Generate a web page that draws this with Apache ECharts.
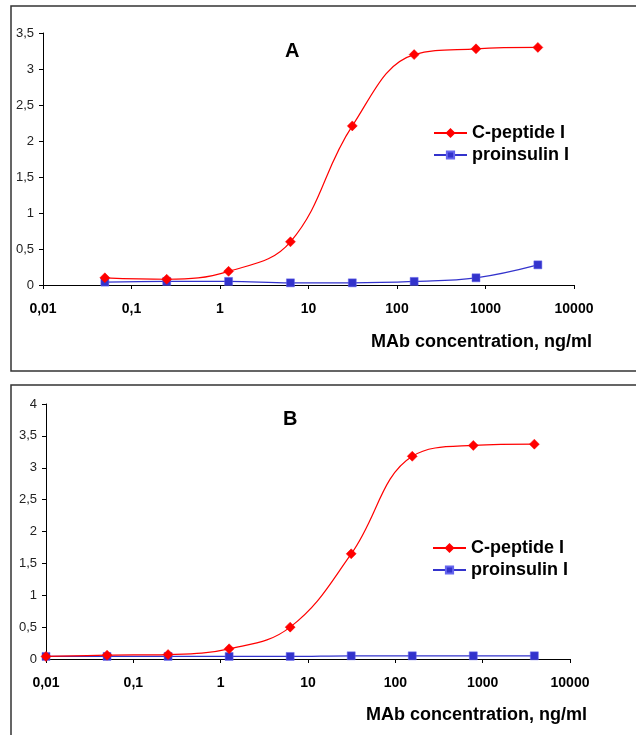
<!DOCTYPE html>
<html><head><meta charset="utf-8">
<script src="https://cdn.jsdelivr.net/npm/echarts@6/dist/echarts.min.js"></script>
<style>html,body{margin:0;padding:0;background:#fff}#c{width:636px;height:735px}</style>
</head><body><div id="c"></div>
<script>
// Panel A data
const concA = [0.05, 0.25, 1.25, 6.25, 31.25, 156.25, 781.25, 3906.25];
const cpepA = [0.10, 0.08, 0.19, 0.60, 2.21, 3.20, 3.28, 3.30];
const proA  = [0.04, 0.05, 0.05, 0.03, 0.03, 0.05, 0.10, 0.28];
// Panel B data
const concB = [0.01, 0.05, 0.25, 1.25, 6.25, 31.25, 156.25, 781.25, 3906.25];
const cpepB = [0.04, 0.06, 0.07, 0.16, 0.50, 1.65, 3.18, 3.35, 3.37];
const proB  = [0.04, 0.04, 0.04, 0.04, 0.04, 0.05, 0.05, 0.05, 0.05];
const seriesNames = ['C-peptide I', 'proinsulin I'];
const panelLabels = ['A', 'B'];
const xTitle = 'MAb concentration, ng/ml';

const FONT = 'Liberation Sans, Arial, sans-serif';
const RED = '#ff0000', BLUE = '#3333cc';
const fmtX = v => String(Number(v.toPrecision(6))).replace('.', ',');
const fmtY = v => String(Number(v.toPrecision(6))).replace('.', ',');
const pairs = (xs, ys) => xs.map((x, i) => [x, ys[i]]);

function xAxis(gi) {
  return {
    type: 'log', logBase: 10, min: 0.01, max: 10000, gridIndex: gi,
    axisLine: { lineStyle: { color: '#000', width: 1 } },
    axisTick: { show: true, length: 4, inside: false, lineStyle: { color: '#000' } },
    minorTick: { show: false }, splitLine: { show: false },
    axisLabel: { formatter: fmtX, fontFamily: FONT, fontWeight: 'bold', fontSize: 14, color: '#000', margin: 17 }
  };
}
function yAxis(gi, max) {
  return {
    type: 'value', min: 0, max: max, interval: 0.5, gridIndex: gi,
    axisLine: { show: true, lineStyle: { color: '#000', width: 1 } },
    axisTick: { show: true, length: 4, lineStyle: { color: '#000' } },
    splitLine: { show: false },
    axisLabel: { formatter: fmtY, fontFamily: FONT, fontSize: 13, color: '#222', margin: 9 }
  };
}
function line(name, gi, data, color, symbol, size) {
  return {
    name: name, type: 'line', xAxisIndex: gi, yAxisIndex: gi, data: data,
    smooth: 0.4, symbol: symbol, symbolSize: size, showSymbol: true,
    lineStyle: { color: color, width: 1.2 },
    itemStyle: { color: color, borderColor: color === BLUE ? '#6666ee' : color, borderWidth: 0.5 },
    emphasis: { disabled: true }, animation: false, z: name === seriesNames[0] ? 3 : 2
  };
}
function legend(top, left) {
  return {
    top: top, left: left, orient: 'vertical', itemGap: 4, itemWidth: 33, itemHeight: 9,
    padding: 0, selectedMode: false,
    textStyle: { fontFamily: FONT, fontWeight: 'bold', fontSize: 18, color: '#000' },
    data: seriesNames
  };
}
const titleStyle = { fontFamily: FONT, fontWeight: 'bold', fontSize: 18, color: '#000' };
const panelStyle = { fontFamily: FONT, fontWeight: 'bold', fontSize: 20, color: '#000' };

const chart = echarts.init(document.getElementById('c'), null, { renderer: 'canvas' });
chart.setOption({
  animation: false,
  backgroundColor: '#fff',
  grid: [
    { left: 43, top: 33, width: 531, height: 252 },
    { left: 46, top: 404, width: 524, height: 255 }
  ],
  xAxis: [xAxis(0), xAxis(1)],
  yAxis: [yAxis(0, 3.5), yAxis(1, 4)],
  legend: [legend(124, 433), legend(539, 432)],
  title: [
    { text: panelLabels[0], left: 285, top: 41, padding: 0, textStyle: panelStyle },
    { text: panelLabels[1], left: 283, top: 409, padding: 0, textStyle: panelStyle },
    { text: xTitle, right: 44, top: 333, padding: 0, textStyle: titleStyle },
    { text: xTitle, right: 49, top: 706, padding: 0, textStyle: titleStyle }
  ],
  graphic: [
    { type: 'rect', shape: { x: 11, y: 6, width: 640, height: 365 }, style: { fill: 'none', stroke: '#333', lineWidth: 1.5 }, silent: true },
    { type: 'rect', shape: { x: 11, y: 385, width: 640, height: 360 }, style: { fill: 'none', stroke: '#333', lineWidth: 1.5 }, silent: true }
  ],
  series: [
    line(seriesNames[0], 0, pairs(concA, cpepA), RED, 'diamond', 10),
    line(seriesNames[1], 0, pairs(concA, proA), BLUE, 'rect', 8),
    line(seriesNames[0], 1, pairs(concB, cpepB), RED, 'diamond', 10),
    line(seriesNames[1], 1, pairs(concB, proB), BLUE, 'rect', 8)
  ]
});
</script></body></html>
